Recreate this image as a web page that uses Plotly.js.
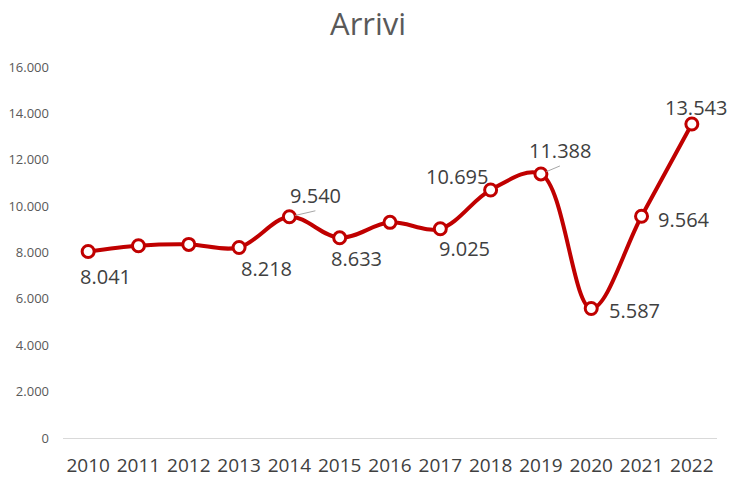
<!DOCTYPE html>
<html><head><meta charset="utf-8">
<script src="https://cdn.plot.ly/plotly-3.0.1.min.js"></script>
<style>html,body{margin:0;padding:0;background:#fff}#c{width:729px;height:477px}</style>
</head><body><div id="c"></div>
<script>
const years = ['2010','2011','2012','2013','2014','2015','2016','2017','2018','2019','2020','2021','2022'];
const arrivi = [8041, 8290, 8350, 8218, 9540, 8633, 9300, 9025, 10695, 11388, 5587, 9564, 13543];
const labelled = ['2010','2013','2014','2015','2017','2018','2019','2020','2021','2022'];
// label offsets in pixels (style, not data)
const labelOffsets = {
  '2010':[17,25,false], '2013':[27,21,false], '2014':[26,-6,true], '2015':[17,21,false],
  '2017':[24,20,false], '2018':[-34,-14,false], '2019':[19,-8,true], '2020':[43,2,false],
  '2021':[42,3,false], '2022':[4,-16,false]
};
function fmt(v){return String(v).replace(/\B(?=(\d{3})+(?!\d))/g,'.');}
const annotations = labelled.map(yr=>{
  const i = years.indexOf(yr); const o = labelOffsets[yr];
  const a = {x:i, y:arrivi[i], xref:'x', yref:'y', text:fmt(arrivi[i]),
    font:{family:'Open Sans, sans-serif', size:20, color:'#404040'}};
  if(o[2]){ Object.assign(a,{showarrow:true, arrowhead:0, arrowwidth:1, arrowcolor:'#a6a6a6', ax:o[0], ay:o[1], standoff:6, xanchor:'center', yanchor:'bottom'}); }
  else { Object.assign(a,{showarrow:false, xshift:o[0], yshift:-o[1]}); }
  return a;
});
const trace = {x:years, y:arrivi, type:'scatter', mode:'lines+markers',
  line:{color:'#c00000', width:4, shape:'spline', smoothing:1},
  marker:{size:12, color:'#ffffff', line:{color:'#c00000', width:3}},
  cliponaxis:false, hoverinfo:'skip'};
const layout = {
  width:729, height:477, margin:{l:63, r:12, t:67, b:39},
  paper_bgcolor:'#fff', plot_bgcolor:'#fff', separators:',.', showlegend:false,
  title:{text:'Arrivi', x:0.505, xanchor:'center', y:0.95, yanchor:'middle',
    font:{family:'Open Sans, sans-serif', size:31, color:'#595959'}},
  xaxis:{type:'category', range:[-0.5,12.5], showgrid:false, zeroline:false,
    showline:true, linecolor:'#d9d9d9', linewidth:1, ticks:'', ticklabelstandoff:10,
    tickfont:{family:'Open Sans, sans-serif', size:19, color:'#404040'}},
  yaxis:{range:[0,16000], dtick:2000, tickformat:',d', showgrid:false, zeroline:false,
    showline:false, ticks:'', ticklabelstandoff:13,
    tickfont:{family:'Open Sans, sans-serif', size:13, color:'#595959'}},
  annotations:annotations
};
Plotly.newPlot('c',[trace],layout,{displayModeBar:false, staticPlot:true});
</script></body></html>
